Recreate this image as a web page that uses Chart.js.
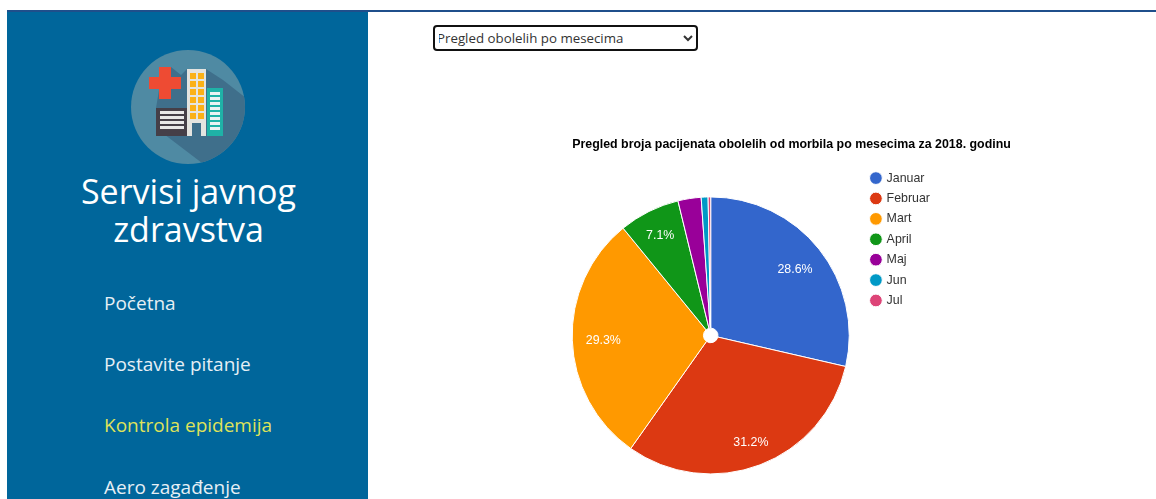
<!DOCTYPE html>
<html lang="sr">
<head>
<meta charset="utf-8">
<title>Servisi javnog zdravstva</title>
<script src="https://cdn.jsdelivr.net/npm/chart.js@4/dist/chart.umd.min.js"></script>
<style>
  html, body { margin: 0; padding: 0; width: 1156px; height: 499px; overflow: hidden; background: #fff; }
  body { position: relative; font-family: "Open Sans", sans-serif; }
  .rule { position: absolute; left: 7px; right: 0; top: 10px; height: 2px; background: #1f4f8b; }
  aside { position: absolute; left: 7px; top: 12px; width: 361px; height: 487px; background: #00669b; color: #fff; }
  aside svg { position: absolute; left: 123px; top: 38px; }
  aside h1 { position: absolute; left: 1px; top: 160px; width: 100%; margin: 0; text-align: center; font-weight: 400; font-size: 34px; line-height: 38px; }
  aside a { position: absolute; left: 97px; font-size: 19px; line-height: 28px; color: #e6eff5; text-decoration: none; }
  aside a.active { color: #dfe25a; }
  select { position: absolute; left: 433px; top: 25px; width: 265px; height: 26px; box-sizing: border-box; border: 2px solid #111; border-radius: 4px; background: #fff; color: #333; font: 13.3px "Open Sans", sans-serif; padding: 0; margin: 0; text-indent: -2px; }
  #holder { position: absolute; left: 368px; top: 130px; width: 788px; height: 377px; }
</style>
</head>
<body>
<div class="rule"></div>
<aside>
  <svg width="116" height="116" viewBox="0 0 116 116">
    <defs><clipPath id="disc"><circle cx="58" cy="57" r="57"/></clipPath></defs>
    <circle cx="58" cy="57" r="57" fill="#4f8aa3"/>
    <g clip-path="url(#disc)">
      <path d="M41 17 L51 25 L57 19 L76 19 L93 30 L125 55 L125 125 L72 113 L26 78 L26 58 L29 40 Z" fill="#3f6f8b"/>
    </g>
    <path d="M29 17 h12 v10 h10 v12 h-10 v10 h-12 v-10 h-10 v-12 h10 z" fill="#ee4b33"/>
    <rect x="57" y="19" width="19" height="67" fill="#e4e4e0"/>
    <g fill="#fbb117">
      <rect x="60" y="23" width="6" height="6"/><rect x="68" y="23" width="6" height="6"/>
      <rect x="60" y="31" width="6" height="6"/><rect x="68" y="31" width="6" height="6"/>
      <rect x="60" y="39" width="6" height="6"/><rect x="68" y="39" width="6" height="6"/>
      <rect x="60" y="47" width="6" height="6"/><rect x="68" y="47" width="6" height="6"/>
      <rect x="60" y="55" width="6" height="6"/><rect x="68" y="55" width="6" height="6"/>
      <rect x="60" y="63" width="6" height="6"/><rect x="68" y="63" width="6" height="6"/>
    </g>
    <rect x="62" y="73" width="9" height="13" fill="#3f6f8b"/>
    <rect x="77" y="38" width="16" height="48" fill="#1fb2a7"/>
    <g fill="#e9f3f2">
      <rect x="80" y="42" width="10" height="3"/><rect x="80" y="47" width="10" height="3"/>
      <rect x="80" y="52" width="10" height="3"/><rect x="80" y="57" width="10" height="3"/>
      <rect x="80" y="62" width="10" height="3"/><rect x="80" y="67" width="10" height="3"/>
      <rect x="80" y="72" width="10" height="3"/><rect x="80" y="77" width="10" height="3"/>
    </g>
    <rect x="26" y="58" width="31" height="28" fill="#453f48"/>
    <g fill="#e8e8e8">
      <rect x="30" y="61" width="24" height="3"/><rect x="30" y="66" width="24" height="3"/>
      <rect x="30" y="71" width="24" height="3"/><rect x="30" y="76" width="24" height="3"/>
    </g>
  </svg>
  <h1>Servisi javnog<br>zdravstva</h1>
  <a style="top:277px">Početna</a>
  <a style="top:338px">Postavite pitanje</a>
  <a class="active" style="top:399px">Kontrola epidemija</a>
  <a style="top:461px">Aero zagađenje</a>
</aside>
<select aria-label="Pregled"><option>Pregled obolelih po mesecima</option></select>
<div id="holder"><canvas id="pie"></canvas></div>
<script>
  const chartTitle = 'Pregled broja pacijenata obolelih od morbila po mesecima za 2018. godinu';
  const months = ['Januar', 'Februar', 'Mart', 'April', 'Maj', 'Jun', 'Jul'];
  const shares = [28.6, 31.2, 29.3, 7.1, 2.7, 0.8, 0.3];
  const sliceColors = ['#3366cc', '#dc3912', '#ff9900', '#109618', '#990099', '#0099c6', '#dd4477'];

  const FONT = '"Liberation Sans", Arial, sans-serif';
  const FONT_SIZE = 12.4;

  // The title sits centred over the whole plot block, legend included.
  const titlePlacement = {
    id: 'titlePlacement',
    afterLayout(chart) {
      chart.titleBlock.left = 104;
      chart.titleBlock.right = 743;
    }
  };

  // Percentage captions inside every slice large enough to hold one. Each
  // caption moves out along its slice until the far corner of its text box
  // reaches a fixed fraction of the radius.
  const sliceCaptions = {
    id: 'sliceCaptions',
    afterDatasetsDraw(chart) {
      const { ctx } = chart;
      const arcs = chart.getDatasetMeta(0).data;
      ctx.save();
      ctx.font = FONT_SIZE + 'px ' + FONT;
      ctx.fillStyle = '#fff';
      ctx.textAlign = 'center';
      ctx.textBaseline = 'middle';
      arcs.forEach((arc, i) => {
        if (shares[i] < 5) return;
        const text = shares[i].toFixed(1) + '%';
        const mid = (arc.startAngle + arc.endAngle) / 2;
        const ux = Math.cos(mid), uy = Math.sin(mid);
        const hw = ctx.measureText(text).width / 2, hh = 6;
        const reach = arc.outerRadius * 0.905;
        const b = Math.abs(ux) * hw + Math.abs(uy) * hh;
        const dist = -b + Math.sqrt(b * b - (hw * hw + hh * hh - reach * reach));
        ctx.fillText(text, arc.x + ux * dist, arc.y + uy * dist + 1.5);
      });
      ctx.restore();
    }
  };

  new Chart(document.getElementById('pie'), {
    type: 'doughnut',
    data: {
      labels: months,
      datasets: [{
        data: shares,
        backgroundColor: sliceColors,
        borderColor: '#fff',
        borderWidth: 1,
        radius: 138.5,
        cutout: 8
      }]
    },
    options: {
      responsive: true,
      maintainAspectRatio: false,
      animation: false,
      layout: { padding: { left: 190, right: 216 } },
      plugins: {
        title: {
          display: true,
          text: chartTitle,
          color: '#000',
          font: { family: FONT, size: FONT_SIZE, weight: 'bold' },
          padding: { top: 7, bottom: 12 }
        },
        legend: {
          position: 'right',
          align: 'start',
          fullSize: false,
          labels: {
            usePointStyle: true,
            pointStyle: 'circle',
            boxWidth: 9,
            boxHeight: 9,
            padding: 8,
            color: '#333',
            font: { family: FONT, size: FONT_SIZE }
          }
        },
        tooltip: { enabled: false }
      }
    },
    plugins: [titlePlacement, sliceCaptions]
  });
</script>
</body>
</html>
